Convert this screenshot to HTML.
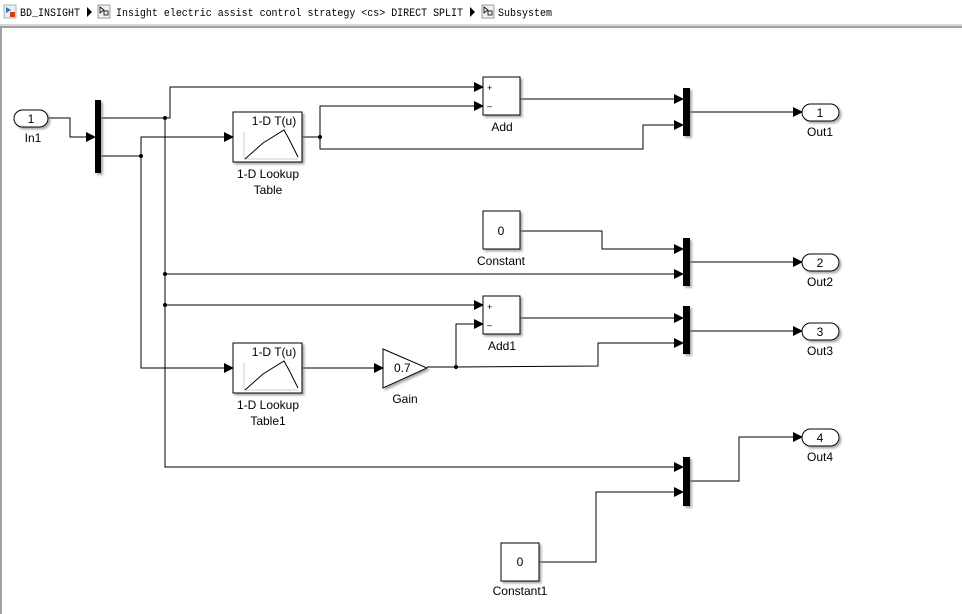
<!DOCTYPE html>
<html><head><meta charset="utf-8"><style>
body{margin:0;width:962px;height:614px;overflow:hidden;background:#fff;}
svg{display:block}
</style></head><body>
<svg width="962" height="614" viewBox="0 0 962 614" xmlns="http://www.w3.org/2000/svg" font-family="Liberation Sans, Arial, sans-serif">
<defs>
<marker id="a" markerWidth="10" markerHeight="10" refX="9" refY="5" orient="auto" markerUnits="userSpaceOnUse"><path d="M0,0 L10,5 L0,10 z" fill="#000"/></marker>
<filter id="s" x="-20%" y="-20%" width="150%" height="150%"><feDropShadow dx="2" dy="2" stdDeviation="1" flood-color="#888" flood-opacity="0.7"/></filter>
</defs>
<rect x="0" y="0" width="962" height="24" fill="#fff"/>
<rect x="0" y="24" width="962" height="2" fill="#d8d8d8"/>
<rect x="0" y="26" width="962" height="2" fill="#a0a0a0"/>
<rect x="0" y="26" width="2" height="588" fill="#a0a0a0"/>
<rect x="4" y="5" width="12" height="13" fill="#e8eef5" stroke="#8aa" stroke-width="0.8"/><path d="M6,7 l5,3 l-5,3z" fill="#2a7ac0"/><rect x="10" y="12" width="5" height="5" fill="#d04010"/>
<text x="20" y="16" font-family="Liberation Mono, monospace" font-size="11" textLength="60" lengthAdjust="spacingAndGlyphs">BD_INSIGHT</text>
<path d="M87,7 l5,5 l-5,5z" fill="#000"/>
<rect x="98" y="5" width="12" height="13" fill="#f0f0f0" stroke="#888" stroke-width="0.8"/><path d="M100,7 l4,3 l-4,3z" fill="none" stroke="#000" stroke-width="0.8"/><rect x="104" y="11" width="4" height="4" fill="none" stroke="#000" stroke-width="0.8"/>
<text x="116" y="16" font-family="Liberation Mono, monospace" font-size="11" textLength="347" lengthAdjust="spacingAndGlyphs">Insight electric assist control strategy &lt;cs&gt; DIRECT SPLIT</text>
<path d="M470,7 l5,5 l-5,5z" fill="#000"/>
<rect x="482" y="5" width="12" height="13" fill="#f0f0f0" stroke="#888" stroke-width="0.8"/><path d="M484,7 l4,3 l-4,3z" fill="none" stroke="#000" stroke-width="0.8"/><rect x="488" y="11" width="4" height="4" fill="none" stroke="#000" stroke-width="0.8"/>
<text x="498" y="16" font-family="Liberation Mono, monospace" font-size="11" textLength="54" lengthAdjust="spacingAndGlyphs">Subsystem</text>

<g fill="none" stroke="#000" stroke-width="1">
<path d="M48,118 H70 V137 H95" marker-end="url(#a)"/>
<path d="M101,118 H170 V87 H483" marker-end="url(#a)"/>
<path d="M165,118 V467 H683" marker-end="url(#a)"/>
<path d="M165,274 H683" marker-end="url(#a)"/>
<path d="M165,305 H483" marker-end="url(#a)"/>
<path d="M101,156 H141 V137 H233" marker-end="url(#a)"/>
<path d="M141,156 V368 H233" marker-end="url(#a)"/>
<path d="M302,137 H320 V106 H483" marker-end="url(#a)"/>
<path d="M320,137 V149 H643 V125 H683" marker-end="url(#a)"/>
<path d="M520,99 H683" marker-end="url(#a)"/>
<path d="M690,112 H802" marker-end="url(#a)"/>
<path d="M520,231 H602 V249 H683" marker-end="url(#a)"/>
<path d="M690,262 H802" marker-end="url(#a)"/>
<path d="M520,318 H683" marker-end="url(#a)"/>
<path d="M302,368 H383" marker-end="url(#a)"/>
<path d="M427,367 H456 V324 H483" marker-end="url(#a)"/>
<path d="M456,367 L598,366 V343 H683" marker-end="url(#a)"/>
<path d="M690,331 H802" marker-end="url(#a)"/>
<path d="M539,562 H596 V492 H683" marker-end="url(#a)"/>
<path d="M690,481 H739 V437 H802" marker-end="url(#a)"/>
</g>
<g fill="#000"><circle cx="165" cy="118" r="2"/><circle cx="141" cy="156" r="2"/><circle cx="165" cy="274" r="2"/><circle cx="165" cy="305" r="2"/><circle cx="320" cy="137" r="2"/><circle cx="456" cy="367" r="2"/></g>

<g filter="url(#s)">
<rect x="14" y="110" width="34" height="17" rx="8.5" fill="#fff" stroke="#000"/>
<rect x="95" y="100" width="6" height="73" fill="#000"/>
<rect x="233" y="112" width="69" height="50" fill="#fff" stroke="#000"/>
<rect x="233" y="343" width="69" height="50" fill="#fff" stroke="#000"/>
<rect x="483" y="77" width="37" height="38" fill="#fff" stroke="#000"/>
<rect x="483" y="296" width="37" height="38" fill="#fff" stroke="#000"/>
<rect x="483" y="211" width="37" height="38" fill="#fff" stroke="#000"/>
<rect x="501" y="543" width="38" height="38" fill="#fff" stroke="#000"/>
<path d="M383,349 L427,368 L383,388 Z" fill="#fff" stroke="#000"/>
<rect x="683" y="88" width="7" height="48" fill="#000"/>
<rect x="683" y="238" width="7" height="48" fill="#000"/>
<rect x="683" y="306" width="7" height="48" fill="#000"/>
<rect x="683" y="457" width="7" height="49" fill="#000"/>
<rect x="802" y="104" width="37" height="17" rx="8.5" fill="#fff" stroke="#000"/>
<rect x="802" y="254" width="37" height="17" rx="8.5" fill="#fff" stroke="#000"/>
<rect x="802" y="323" width="37" height="17" rx="8.5" fill="#fff" stroke="#000"/>
<rect x="802" y="429" width="37" height="17" rx="8.5" fill="#fff" stroke="#000"/>
</g>
<g fill="none" stroke-width="1">
<path d="M244,132 V159 H298" stroke="#ccc"/>
<path d="M245,159 L263,143 L284,130 L289,139 L298,157" stroke="#000"/>
<path d="M244,363 V390 H298" stroke="#ccc"/>
<path d="M245,390 L263,374 L284,361 L289,370 L298,388" stroke="#000"/>
</g>
<g font-size="12" fill="#000" text-anchor="middle">
<text x="31" y="123">1</text><text x="33" y="142">In1</text>
<text x="274" y="125">1-D T(u)</text><text x="268" y="178">1-D Lookup</text><text x="268" y="194">Table</text>
<text x="274" y="356">1-D T(u)</text><text x="268" y="409">1-D Lookup</text><text x="268" y="425">Table1</text>
<text x="502" y="131">Add</text><text x="502" y="350">Add1</text>
<text x="501" y="235">0</text><text x="501" y="265">Constant</text>
<text x="520" y="566">0</text><text x="520" y="595">Constant1</text>
<text x="405" y="403">Gain</text>
<text x="394" y="372" text-anchor="start">0.7</text>
<text x="820" y="117">1</text><text x="820" y="136">Out1</text>
<text x="820" y="267">2</text><text x="820" y="286">Out2</text>
<text x="820" y="336">3</text><text x="820" y="355">Out3</text>
<text x="820" y="442">4</text><text x="820" y="461">Out4</text>
</g>
<g font-size="9" fill="#000">
<text x="487" y="91">+</text><text x="487" y="109">–</text>
<text x="487" y="310">+</text><text x="487" y="328">–</text>
</g>
</svg>
</body></html>
